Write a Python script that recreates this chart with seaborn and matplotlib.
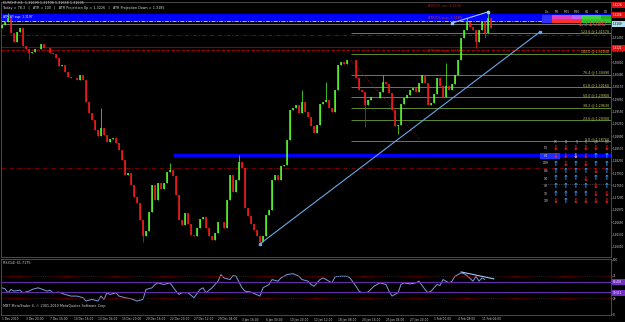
import matplotlib
matplotlib.use("Agg")
import matplotlib.pyplot as plt
import seaborn as sns
import pandas as pd

# ---------------- data ----------------
closes = [
    1.3178, 1.3186, 1.3196, 1.3157, 1.3134, 1.3160, 1.3170, 1.3123, 1.3116, 1.3105,
    1.3108, 1.3116, 1.3116, 1.3129, 1.3118, 1.3118, 1.3105, 1.3103, 1.3092, 1.3071,
    1.3074, 1.3056, 1.3043, 1.3040, 1.3040, 1.3035, 1.3048, 1.3035, 1.2978, 1.2949,
    1.2931, 1.2905, 1.2889, 1.2910, 1.2892, 1.2874, 1.2882, 1.2884, 1.2871, 1.2853,
    1.2827, 1.2788, 1.2793, 1.2762, 1.2731, 1.2715, 1.2671, 1.2629, 1.2642, 1.2692,
    1.2762, 1.2723, 1.2767, 1.2752, 1.2767, 1.2796, 1.2801, 1.2785, 1.2736, 1.2671,
    1.2658, 1.2689, 1.2661, 1.2632, 1.2629, 1.2650, 1.2674, 1.2679, 1.2650, 1.2629,
    1.2619, 1.2637, 1.2666, 1.2666, 1.2650, 1.2723, 1.2788, 1.2744, 1.2775, 1.2822,
    1.2806, 1.2702, 1.2681, 1.2661, 1.2645, 1.2629, 1.2614, 1.2629, 1.2684, 1.2697,
    1.2775, 1.2788, 1.2775, 1.2811, 1.2814, 1.2879, 1.2957, 1.2962, 1.2970, 1.2949,
    1.2978, 1.2952, 1.2939, 1.2915, 1.2897, 1.2918, 1.2973, 1.2978, 1.2983, 1.2962,
    1.2952, 1.3009, 1.3074, 1.3082, 1.3077, 1.3087, 1.3087, 1.3087, 1.3040, 1.3009,
    1.3004, 1.2970, 1.2983, 1.2991, 1.2991, 1.2988, 1.3004, 1.3030, 1.3025, 1.3001,
    1.2957, 1.2915, 1.2918, 1.2973, 1.2988, 1.2996, 1.3009, 1.3014, 1.3004, 1.3027,
    1.3048, 1.3027, 1.2970, 1.2975, 1.2999, 1.3040, 1.3019, 1.2991, 1.3019, 1.3009,
    1.3025, 1.3048, 1.3087, 1.3144, 1.3165, 1.3186, 1.3173, 1.3165, 1.3134, 1.3165,
    1.3188, 1.3157, 1.3196, 1.3170,
]
first_open = 1.3170
wick_highs = {2: 1.3209, 33: 1.2962, 56: 1.2819, 79: 1.2840, 100: 1.3009,
              108: 1.3030, 127: 1.3048, 148: 1.3079, 155: 1.3196, 162: 1.3217}
wick_lows = {9: 1.3087, 47: 1.2614, 86: 1.2609, 121: 1.2913, 132: 1.2895,
             158: 1.3118, 161: 1.3144}

rsi_points = [
    (0, 48.5), (1, 46.7), (2, 39.4), (3, 45.5), (4, 42.4), (6, 44.2), (7, 39.4), (9, 42.4),
    (10, 45.5), (12, 48.5), (13, 46.7), (15, 42.4), (16, 44.2), (17, 39.4), (19, 40.6),
    (21, 36.3), (23, 33.3), (25, 33.3), (27, 30.3), (28, 24.2), (30, 27.2), (32, 24.2),
    (33, 33.3), (34, 27.2), (35, 39.4), (36, 36.3), (38, 39.4), (39, 33.3), (41, 30.3),
    (43, 28.4), (45, 24.2), (47, 27.2), (48, 45.5), (50, 48.5), (51, 54.6), (52, 57.6),
    (54, 54.6), (55, 56.4), (56, 57.6), (58, 42.4), (59, 36.3), (60, 39.4), (62, 39.4),
    (64, 30.3), (66, 45.5), (67, 48.5), (68, 39.4), (70, 48.5), (72, 60.7), (73, 72.8),
    (74, 66.7), (76, 63.7), (77, 71.0), (78, 69.8), (80, 48.5), (81, 42.4), (83, 40.6),
    (86, 33.3), (87, 48.5), (89, 54.6), (90, 63.7), (92, 60.7), (93, 66.7), (95, 72.8),
    (97, 74.6), (99, 69.8), (100, 63.7), (102, 60.7), (103, 54.6), (104, 51.5), (106, 63.7),
    (107, 66.7), (108, 63.7), (110, 57.6), (111, 68.6), (113, 69.8), (115, 69.8), (116, 66.7),
    (118, 51.5), (119, 42.4), (120, 39.4), (122, 40.6), (124, 51.5), (126, 57.6), (128, 54.6),
    (129, 42.4), (130, 33.3), (132, 39.4), (133, 54.6), (134, 57.6), (136, 55.8), (138, 57.6),
    (139, 60.7), (141, 45.5), (142, 39.4), (143, 42.4), (145, 54.6), (146, 52.8), (147, 63.7),
    (149, 57.6), (150, 60.7), (151, 69.8), (153, 75.9), (154, 74.6), (155, 71.0), (157, 60.7),
    (158, 69.8), (159, 60.7), (160, 66.7), (161, 63.7),
]

time_labels = ["1 Dec 2010", "3 Dec 20:00", "7 Dec 16:00", "10 Dec 16:00", "13 Dec 04:00",
               "15 Dec 20:00", "20 Dec 16:00", "22 Dec 20:00", "27 Dec 12:00", "29 Dec 04:00",
               "3 Jan 16:00", "6 Jan 00:00", "10 Jan 20:00", "12 Jan 12:00", "18 Jan 08:00",
               "20 Jan 16:00", "25 Jan 04:00", "27 Jan 20:00", "1 Feb 00:00", "4 Feb 08:00",
               "11 Feb 04:00"]
time_label_bars = [0, 8, 16, 24, 32, 40, 48, 56, 64, 72, 80, 88, 96, 104, 112, 120,
                   128, 136, 144, 152, 160]

price_ticks = [1.2601, 1.2633, 1.2665, 1.2697, 1.2729, 1.2761, 1.2793, 1.2825, 1.2857,
               1.2889, 1.2921, 1.2953, 1.2985, 1.3017, 1.3049, 1.3081, 1.3113, 1.3145]

fib_names = ["0.0", "23.6", "38.2", "50.0", "61.8", "76.4", "100.0", "123.6"]
fib_prices = [1.2876, 1.2930, 1.2963, 1.2990, 1.3016, 1.3049, 1.3103, 1.3157]

atr_up, atr_down = 1.3226, 1.3185
last_price = 1.31696

# arrow grid (1 = up/blue, -1 = down/red, 0 = neutral/yellow)
grid_cols = ["FX", "EJ", "TJ", "CJ", "CJK", "CJC"]
grid_rows = ["D1", "H4", "D3H", "D4i", "D4", "4H", "1D", "1W"]
grid_vals = [
    [-1, -1, -1, -1, -1, -1],
    [-1, -1, 0, -1, 1, 1],
    [1, -1, 1, -1, 1, 1],
    [1, 1, 1, 1, -1, 1],
    [1, 1, 1, -1, 1, 1],
    [1, 1, 1, 1, -1, 1],
    [1, 1, 1, 1, -1, -1],
    [-1, 1, -1, -1, -1, -1],
]

# ---------------- style ----------------
sns.set_theme(style="dark", rc={"axes.facecolor": "black", "figure.facecolor": "black",
                                "axes.edgecolor": "#606060", "axes.grid": False})
plt.rcParams['font.family'] = ['DejaVu Sans']

W, H = 625, 322
fig = plt.figure(figsize=(W / 100, H / 100), dpi=100)


def box(l, t, r, b):
    return [l / W, 1 - b / H, (r - l) / W, (b - t) / H]


def ftext(px, py, s, **kw):
    fig.text(px / W, 1 - py / H, s, **kw)


ax = fig.add_axes(box(1, 2, 611, 257))
rax = fig.add_axes(box(1, 259, 611, 315))
XMIN, XMAX = -0.33, 203.0
ax.set_xlim(XMIN, XMAX)
ax.set_ylim(1.25748, 1.32378)
rax.set_xlim(XMIN, XMAX)
rax.set_ylim(-1.5, 101.5)

for a in (ax, rax):
    for s in a.spines.values():
        s.set_color("#555555")
        s.set_linewidth(0.6)

# ---------------- overlays behind candles ----------------
ax.axhspan(1.3187, 1.3206, color="#0000ff", zorder=1, lw=0)
ax.axhline(1.3188, color="#9fc4ff", lw=0.7, ls=(0, (4, 1.5, 1, 1.5)), zorder=2)
ax.axhline(1.3181, color="#8a8a8a", lw=0.6, zorder=2)
ax.axhline(1.3240, color="#3c6b2a", lw=0.8, zorder=2)
ax.axhline(1.3152, color="#a00000", lw=0.6, ls=(0, (5, 2, 1, 2)), zorder=2)
ax.axhline(1.3121, color="#8b0000", lw=0.8, zorder=2)
ax.axhline(1.3113, color="#c00000", lw=0.6, ls=(0, (4, 2)), zorder=2)
ax.axhline(1.2806, color="#8b0000", lw=0.6, ls=(0, (5, 2, 1, 2)), zorder=2)
ax.hlines(1.2840, 57, XMAX, color="#0000ff", lw=2.3, zorder=2)

fib_start = 116.3
ax.hlines(fib_prices, fib_start, XMAX, color="#5f8a30", lw=0.7, zorder=2)
ax.plot([fib_start, 139.3], [1.3087, 1.2879], color="#8b1a1a", lw=0.6, ls=":", zorder=2)
for name, p in zip(fib_names, fib_prices):
    ax.text(XMAX - 0.5, p + 0.00005, f"{name} @ {p:.5f}", color="#c8d060",
            fontsize=2.3, ha="right", va="bottom", zorder=5)

# ---------------- candles ----------------
n = len(closes)
opens = [first_open] + closes[:-1]
df = pd.DataFrame({"bar": range(n), "open": opens, "close": closes})
df["hi"] = df[["open", "close"]].max(axis=1)
df["lo"] = df[["open", "close"]].min(axis=1)
df["high"] = [wick_highs.get(i, h) for i, h in zip(df.bar, df.hi)]
df["low"] = [wick_lows.get(i, l) for i, l in zip(df.bar, df.lo)]
df["col"] = ["#55ff2a" if c >= o else "#ff1a1a" for o, c in zip(df.open, df.close)]
ax.vlines(df.bar, df.low, df.high, colors=df.col, lw=0.5, zorder=3)
body_top = [h if h - l > 0.00008 else l + 0.00008 for h, l in zip(df.hi, df.lo)]
ax.vlines(df.bar, df.lo, body_top, colors=df.col, lw=1.1, zorder=3)

# trend lines
ax.plot([86, 179.3], [1.2609, 1.3160], color="#6aa8e8", lw=0.8, zorder=4,
        marker="s", markersize=1.6, markevery=[0, 1])
ax.plot([150, 162], [1.3183, 1.3212], color="#9cc8ff", lw=0.8, zorder=4,
        marker="s", markersize=1.6)

# ---------------- axis labels ----------------
ax.set_xticks([])
ax.yaxis.tick_right()
ax.set_yticks(price_ticks)
ax.set_yticklabels([f"{p:.5f}" for p in price_ticks], fontsize=2.0, color="#d0d0d0")
ax.tick_params(axis="y", length=1.0, width=0.4, pad=0.6, colors="#d0d0d0")

# ---------------- RSI ----------------
rsi_df = pd.DataFrame(rsi_points, columns=["bar", "rsi"])
sns.lineplot(data=rsi_df, x="bar", y="rsi", ax=rax, color="#7b9bdc", lw=0.7)
for lvl in (71, 29):
    rax.axhline(lvl, color="#8b0000", lw=0.6, ls=(0, (1, 1.5)))
for lvl in (60, 40):
    rax.axhline(lvl, color="#6a2bb0", lw=0.7)
rax.plot([153, 164], [77.7, 64.9], color="#9cc8ff", lw=0.8)
rax.set_xlabel("")
rax.set_ylabel("")
rax.yaxis.tick_right()
rax.set_yticks([0, 29, 71, 100])
rax.set_yticklabels(["0", "29", "71", "100"], fontsize=2.0, color="#d0d0d0")
rax.tick_params(axis="y", length=1.0, width=0.4, pad=0.6, colors="#d0d0d0")
rax.set_xticks(time_label_bars)
rax.set_xticklabels(time_labels, fontsize=2.1, color="#d0d0d0", ha="left")
rax.tick_params(axis="x", length=1.2, width=0.4, pad=0.6, colors="#d0d0d0")

# ---------------- texts / widgets ----------------
ftext(3, 3.5, "EURCHF,H4  1.31699 1.31708 1.31658 1.31696", color="#d8d8d8", fontsize=2.4, va="center")
ftext(3, 8, f"Today = 78.3   |   ATR = 100   |   ATR Projection Up = {atr_up:.4f}   |   "
            f"ATR Projection Down = {atr_down:.4f}", color="#d8d8d8", fontsize=2.4, va="center")
ftext(3, 17, "ATR(W) sup: 1.3197", color="white", fontsize=2.2, va="center")
ftext(428, 6, f"ATR(D) res: {atr_up:.4f}", color="#a02020", fontsize=2.5, va="center")
ftext(428, 17.5, f"ATR(D) sup: {atr_down:.4f}", color="#b04040", fontsize=2.5, va="center")
ftext(428, 51, "ATR(W) sup: 1.3113", color="#c02020", fontsize=2.5, va="center")
ftext(606, 24.5, f"{last_price:.5f}", color="#ff2a2a", fontsize=5.0, ha="right", va="center")
ftext(3, 263, "RSI(14) 61.7175", color="#d0d0d0", fontsize=2.4, va="center")
ftext(3, 306, "MBT MetaTrader 4, \u00a9 2001-2010 MetaQuotes Software Corp.",
      color="#d0d0d0", fontsize=2.4, va="center")

# table at top right
tab_hdr = ["Cls", "M1", "M5", "M15", "M30", "H1", "H4", "D1"]
tab_x = [547, 557, 567, 577, 587, 597, 606]
row1 = ["#3030ff", "#e040c0", "#e040c0", "#c060ff", "#40d040", "#40d040", "#20b020"]
row2 = ["#3030ff", "#ff3030", "#ff3030", "#ff3030", "#30c030", "#30c030", "#30c030"]
for i, x in enumerate(tab_x):
    ftext(x, 12, tab_hdr[i + 1] if i else tab_hdr[0], color="#d0d0d0", fontsize=2.2,
          ha="center", va="center")
    for y, cols in ((17, row1), (21, row2)):
        fig.patches.append(plt.Rectangle(((x - 4.7) / W, 1 - (y + 1.9) / H), 9.4 / W, 3.8 / H,
                                         transform=fig.transFigure, color=cols[i], lw=0))

# price-axis label boxes
for y, c, s in ((5, "#e01010", "1.3226"), (15, "#e01010", "1.3206"),
                (24, "#b0e0f0", "1.3169"), (48, "#e01010", "1.3121")):
    fig.patches.append(plt.Rectangle((612 / W, 1 - (y + 3) / H), 14 / W, 6 / H,
                                     transform=fig.transFigure, color=c, lw=0))
    ftext(613, y, s, color="white" if c != "#b0e0f0" else "black", fontsize=2.0, va="center")
for y, s in ((282, "60.405"), (293, "39.511")):
    fig.patches.append(plt.Rectangle((612 / W, 1 - (y + 3) / H), 14 / W, 6 / H,
                                     transform=fig.transFigure, color="#7030c0", lw=0))
    ftext(613, y, s, color="white", fontsize=2.0, va="center")

# arrow grid
gx = [556, 566, 576, 586, 596, 607]
gy = [148, 156, 163.5, 171, 178.5, 186, 193.5, 201]
for x, c in zip(gx, grid_cols):
    ftext(x, 142, c, color="#c0c0c0", fontsize=2.2, ha="center", va="center")
fig.patches.append(plt.Rectangle((540 / W, 1 - 159 / H), 20 / W, 6 / H,
                                 transform=fig.transFigure, color="#2030ff", lw=0))
for r, (y, lab) in enumerate(zip(gy, grid_rows)):
    ftext(546, y, lab, color="#c0c0c0", fontsize=2.2, ha="center", va="center")
    for x, v in zip(gx, grid_vals[r]):
        sym = "\u2191" if v > 0 else "\u2193"
        col = "#39a0ff" if v > 0 else ("#ff2020" if v < 0 else "#ffd040")
        ftext(x, y, sym, color=col, fontsize=5, ha="center", va="center", fontweight="bold")
ax.hlines(1.2764, 180, XMAX, color="#707070", lw=0.5, ls=":")

fig.savefig("out.png", dpi=100, facecolor="black")
